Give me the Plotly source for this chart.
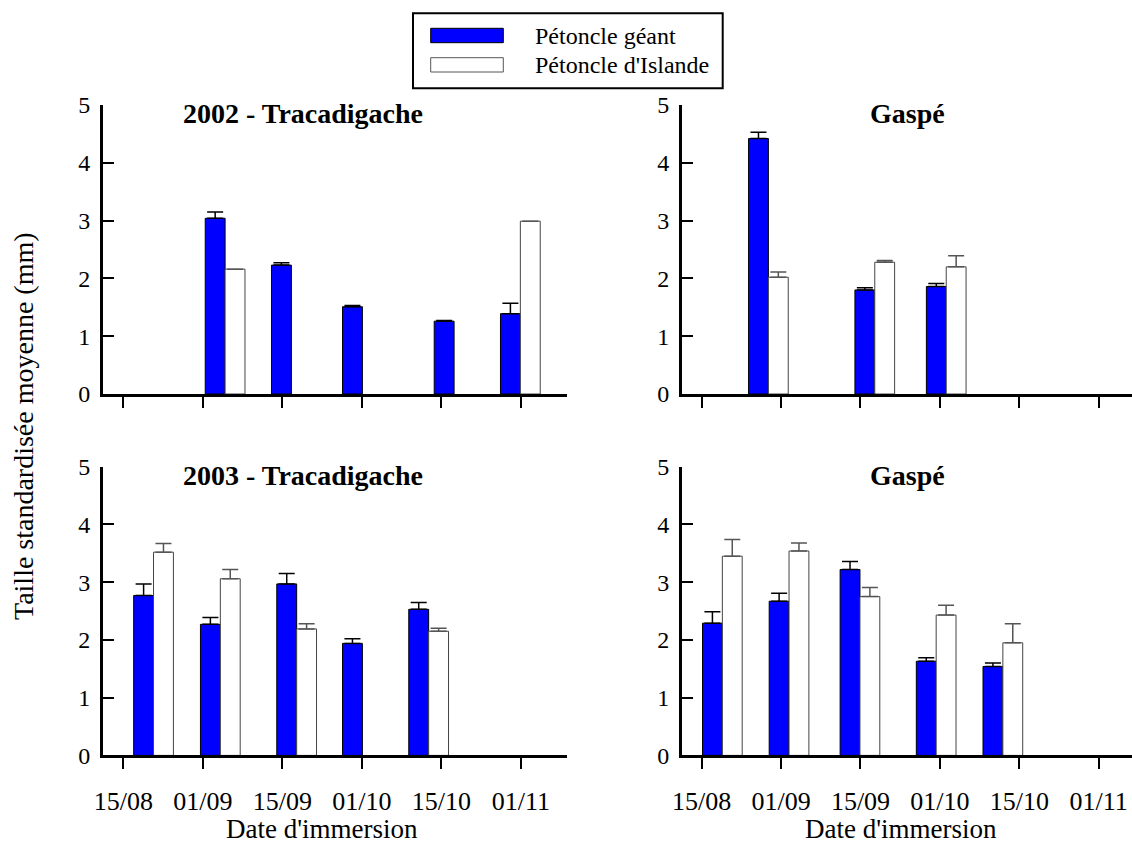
import plotly.graph_objects as go

W, H = 1132, 846
FONT = "Liberation Serif"

tick_days = [0, 15, 30, 45, 60, 75]
tick_labels = ["15/08", "01/09", "15/09", "01/10", "15/10", "01/11"]
series_names = ["Pétoncle géant", "Pétoncle d'Islande"]

# Days after 15/08 (axis scale: 15 days per tick)
tl_days = [19.2, 31.7, 45.1, 62.4, 74.9]
tl_geant = [3.04, 2.23, 1.51, 1.26, 1.39]
tl_geant_err = [0.11, 0.04, 0.02, 0.01, 0.18]
tl_isl = [2.16, None, None, None, 2.99]
tl_isl_err = [None, None, None, None, None]

tr_days = [12.6, 32.7, 46.2]
tr_geant = [4.42, 1.80, 1.86]
tr_geant_err = [0.11, 0.04, 0.05]
tr_isl = [2.02, 2.28, 2.20]
tr_isl_err = [0.09, 0.03, 0.19]

bl_days = [5.7, 18.3, 32.7, 45.1, 57.6]
bl_geant = [2.77, 2.27, 2.97, 1.94, 2.53]
bl_geant_err = [0.20, 0.12, 0.18, 0.08, 0.12]
bl_isl = [3.52, 3.06, 2.19, None, 2.15]
bl_isl_err = [0.15, 0.16, 0.09, None, 0.05]

br_days = [3.9, 16.5, 29.9, 44.3, 56.9]
br_geant = [2.29, 2.67, 3.22, 1.63, 1.54]
br_geant_err = [0.20, 0.14, 0.14, 0.06, 0.06]
br_isl = [3.45, 3.54, 2.75, 2.43, 1.95]
br_isl_err = [0.29, 0.14, 0.16, 0.17, 0.33]

panels = [
    ("2002 - Tracadigache", tl_days, tl_geant, tl_geant_err, tl_isl, tl_isl_err, "x", "y"),
    ("Gaspé", tr_days, tr_geant, tr_geant_err, tr_isl, tr_isl_err, "x2", "y2"),
    ("2003 - Tracadigache", bl_days, bl_geant, bl_geant_err, bl_isl, bl_isl_err, "x3", "y3"),
    ("Gaspé", br_days, br_geant, br_geant_err, br_isl, br_isl_err, "x4", "y4"),
]

BW = 3.75
BLUE = "#0000FF"

fig = go.Figure()
for title, days, g, ge, isl, ie, xa, ya in panels:
    fig.add_trace(go.Bar(
        x=days, y=g, width=BW, offset=-BW, xaxis=xa, yaxis=ya,
        name=series_names[0], showlegend=False,
        marker=dict(color=BLUE, line=dict(color="#000000", width=1)),
        error_y=dict(type="data", symmetric=False, array=ge,
                     arrayminus=[0 if v is not None else None for v in ge],
                     color="#000000", thickness=1.5, width=8),
    ))
    fig.add_trace(go.Bar(
        x=days, y=isl, width=BW, offset=0, xaxis=xa, yaxis=ya,
        name=series_names[1], showlegend=False,
        marker=dict(color="#FFFFFF", line=dict(color="#444444", width=1)),
        error_y=dict(type="data", symmetric=False, array=ie,
                     arrayminus=[0 if v is not None else None for v in ie],
                     color="#555555", thickness=1.5, width=8),
    ))

def px(x):
    return x / W

def py(y):
    return 1 - y / H

xdom_l = [px(102.7), px(567)]
xdom_r = [px(681.7), 1.0]
ydom_t = [py(394), py(105)]
ydom_b = [py(755.4), py(466.7)]

xr_l = [-3.89, 83.7]
xr_r = [-3.78, 81.3]

def xaxis(dom, rng, anchor, labels):
    return dict(domain=dom, range=rng, anchor=anchor, showline=True, linecolor="black",
                linewidth=2.5, ticks="outside", ticklen=11, tickwidth=2, tickcolor="black",
                tickvals=tick_days, ticktext=tick_labels if labels else [""] * 6,
                showticklabels=labels, showgrid=False, zeroline=False, automargin=False,
                tickfont=dict(family=FONT, size=26, color="black"),
                ticklabelstandoff=10, fixedrange=True)

def yaxis(dom, anchor):
    return dict(domain=dom, range=[0, 5], anchor=anchor, showline=True, linecolor="black",
                linewidth=2.5, ticks="inside", ticklen=12, tickwidth=2, tickcolor="black",
                tickvals=[0, 1, 2, 3, 4, 5], showgrid=False, zeroline=False, automargin=False,
                tickfont=dict(family=FONT, size=24, color="black"),
                ticklabelstandoff=5, fixedrange=True)

fig.update_layout(
    width=W, height=H, margin=dict(l=0, r=0, t=0, b=0, pad=0, autoexpand=False),
    paper_bgcolor="white", plot_bgcolor="rgba(0,0,0,0)",
    barmode="overlay", showlegend=False,
    font=dict(family=FONT, color="black"),
    xaxis=xaxis(xdom_l, xr_l, "y", False),
    yaxis=yaxis(ydom_t, "x"),
    xaxis2=xaxis(xdom_r, xr_r, "y2", False),
    yaxis2=yaxis(ydom_t, "x2"),
    xaxis3=xaxis(xdom_l, xr_l, "y3", True),
    yaxis3=yaxis(ydom_b, "x3"),
    xaxis4=xaxis(xdom_r, xr_r, "y4", True),
    yaxis4=yaxis(ydom_b, "x4"),
)

ann = []
title_pos = [(303, 113), (907, 113), (303, 475), (907, 475)]
for (title, *_), (tx, ty) in zip(panels, title_pos):
    ann.append(dict(text="<b>" + title + "</b>", x=px(tx), y=py(ty), xref="paper", yref="paper",
                    xanchor="center", yanchor="middle", showarrow=False,
                    font=dict(family=FONT, size=28, color="black")))
for cx in (322, 901):
    ann.append(dict(text="Date d'immersion", x=px(cx), y=py(829), xref="paper", yref="paper",
                    xanchor="center", yanchor="middle", showarrow=False,
                    font=dict(family=FONT, size=27, color="black")))
ann.append(dict(text="Taille standardisée moyenne (mm)", x=px(24), y=py(426), xref="paper",
                yref="paper", xanchor="center", yanchor="middle", textangle=-90, showarrow=False,
                font=dict(family=FONT, size=28, color="black")))
# legend
ann.append(dict(text=series_names[0], x=px(533), y=py(36), xref="paper", yref="paper",
                xanchor="left", yanchor="middle", showarrow=False,
                font=dict(family=FONT, size=24, color="black")))
ann.append(dict(text=series_names[1], x=px(533), y=py(65), xref="paper", yref="paper",
                xanchor="left", yanchor="middle", showarrow=False,
                font=dict(family=FONT, size=24, color="black")))

shapes = [
    dict(type="rect", xref="paper", yref="paper", x0=px(413), x1=px(722.7), y0=py(88.3), y1=py(13.3),
         line=dict(color="black", width=2), fillcolor="white", layer="below"),
    dict(type="rect", xref="paper", yref="paper", x0=px(430.7), x1=px(503.3), y0=py(42.7), y1=py(28.3),
         line=dict(color="black", width=1), fillcolor=BLUE),
    dict(type="rect", xref="paper", yref="paper", x0=px(430.7), x1=px(503.3), y0=py(72), y1=py(57.7),
         line=dict(color="#555555", width=1), fillcolor="white"),
]
fig.update_layout(annotations=ann, shapes=shapes)

fig.write_html("out.html", config={"displayModeBar": False},
               post_script="document.body.style.margin='0px';")
